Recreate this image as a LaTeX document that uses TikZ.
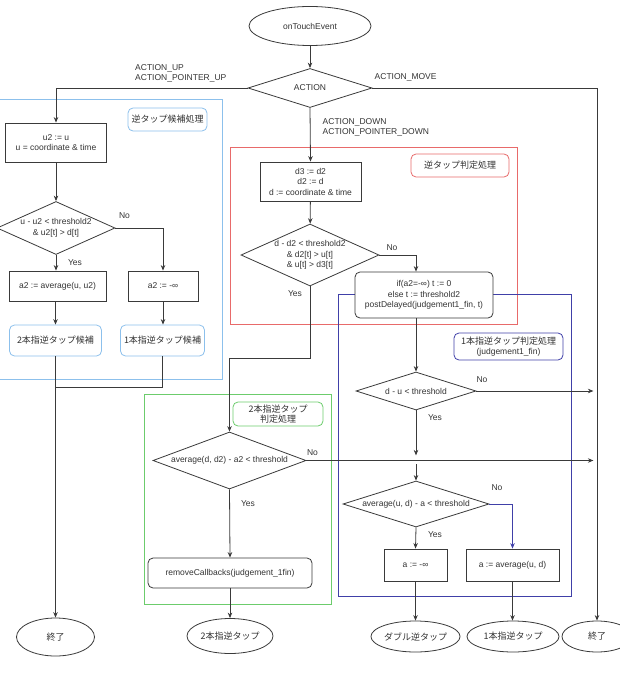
\documentclass[tikz,border=0pt]{standalone}
\usepackage{fontspec}
\setmainfont{Liberation Sans}
\newfontfamily\jp{Noto Sans CJK JP}
\usetikzlibrary{shapes.geometric,arrows.meta}
\definecolor{linec}{HTML}{3A3A3A}
\definecolor{txtc}{HTML}{333333}
\definecolor{bluec}{HTML}{8CC0EC}
\definecolor{redc}{HTML}{E86A6A}
\definecolor{greenc}{HTML}{6CCC6C}
\definecolor{navyc}{HTML}{4040A8}
\newcommand\dfont{\fontsize{8.5}{10.5}\selectfont}
\newcommand\jfont{\jp\fontsize{9}{11}\selectfont}
\begin{document}
\begin{tikzpicture}[x=1pt,y=-1pt,
  conn/.style={draw=linec, line width=0.8pt, -{Stealth[length=5.5pt,width=4.5pt]}},
  plainline/.style={draw=linec, line width=0.8pt},
  box/.style={rectangle, draw=linec, line width=0.8pt, fill=white, inner sep=0pt, text=txtc, font=\dfont, align=center},
  rbox/.style={box, rounded corners=5pt},
  term/.style={ellipse, draw=linec, line width=0.8pt, fill=white, inner sep=0pt, text=txtc, font=\dfont},
  dia/.style={diamond, draw=linec, line width=0.8pt, fill=white, inner sep=0pt},
  dtxt/.style={text=txtc, font=\dfont, align=center, inner sep=0pt},
  lbl/.style={text=txtc, font=\dfont, inner sep=0pt, align=left},
  frame/.style={line width=0.8pt},
  flabel/.style={rectangle, rounded corners=5pt, line width=0.8pt, fill=white, text=txtc, font=\jfont, align=center, inner sep=0pt}
]
\useasboundingbox (0,0) rectangle (619,674);

% containers
\draw[frame, draw=bluec] (-1,99) rectangle (222,379);
\draw[frame, draw=redc] (230,147) rectangle (517,324);
\draw[frame, draw=navyc] (338,294) rectangle (571,596);
\draw[frame, draw=greenc] (144,394) rectangle (331,604);

\node[flabel, draw=bluec, minimum width=79, minimum height=23] (lblue) at (167.5,119.5) {逆タップ候補処理};
\node[flabel, draw=redc, minimum width=98, minimum height=23] (lred) at (460,165.5) {逆タップ判定処理};
\node[flabel, draw=navyc, minimum width=109, minimum height=27] (lnavy) at (508.5,346.5) {1本指逆タップ判定処理\\[-1pt]{\rmfamily\dfont(judgement1\_fin)}};
\node[flabel, draw=greenc, minimum width=90, minimum height=24] (lgreen) at (278,414) {2本指逆タップ\\[-1pt]判定処理};

% nodes
\node[term, minimum width=122, minimum height=39] (start) at (310,26) {onTouchEvent};
\node[dia, minimum width=124, minimum height=39] (act) at (310,88) {};
\node[dtxt] at (act) {ACTION};

\node[box, minimum width=101, minimum height=39] (bu) at (56,142.5) {u2 := u\\u = coordinate \& time};
\node[dia, minimum width=118, minimum height=53] (du) at (56,228) {};
\node[dtxt] at (du) {u - u2 < threshold2\\\& u2[t] > d[t]};
\node[box, minimum width=97, minimum height=30] (ba2avg) at (57.5,286) {a2 := average(u, u2)};
\node[box, minimum width=70, minimum height=30] (ba2inf) at (163,286) {a2 := -∞};
\node[rbox, draw=bluec, font=\jfont, minimum width=92, minimum height=31] (r2cand) at (55.5,340.5) {2本指逆タップ候補};
\node[rbox, draw=bluec, font=\jfont, minimum width=84, minimum height=31] (r1cand) at (162.5,340.5) {1本指逆タップ候補};
\node[term, font=\jfont, minimum width=78, minimum height=38] (endL) at (55.5,637) {終了};

\node[box, minimum width=101, minimum height=39] (bd) at (310.5,181.5) {d3 := d2\\d2 := d\\d := coordinate \& time};
\node[dia, minimum width=138, minimum height=62] (dd) at (310,255) {};
\node[dtxt] at (dd) {d - d2 < threshold2\\\& d2[t] > u[t]\\\& u[t] > d3[t]};
\node[rbox, minimum width=138, minimum height=46] (post) at (424,295) {if(a2=-∞) t := 0\\else t := threshold2\\postDelayed(judgement1\_fin, t)};

\node[dia, minimum width=120, minimum height=38] (d1) at (416,391) {};
\node[dtxt] at (d1) {d - u < threshold};
\node[dia, minimum width=146, minimum height=46] (d2) at (416,504) {};
\node[dtxt] at (d2) {average(u, d) - a < threshold};
\node[box, minimum width=63, minimum height=32] (bainf) at (415.5,565) {a := -∞};
\node[box, minimum width=93, minimum height=32] (baavg) at (512.5,565) {a := average(u, d)};
\node[term, font=\jfont, minimum width=85, minimum height=31] (edouble) at (415.5,636.5) {ダブル逆タップ};
\node[term, font=\jfont, minimum width=92, minimum height=31] (e1) at (513,636.5) {1本指逆タップ};
\node[term, font=\jfont, minimum width=70, minimum height=31] (endR) at (597,636.5) {終了};

\node[dia, minimum width=153, minimum height=57] (gd) at (229.5,460.5) {};
\node[dtxt] at (gd) {average(d, d2) - a2 < threshold};
\node[rbox, minimum width=164, minimum height=30] (rc) at (230,573) {removeCallbacks(judgement\_1fin)};
\node[term, font=\jfont, minimum width=86, minimum height=35] (e2) at (230,636) {2本指逆タップ};

\coordinate (midgap) at (416,464);

% connectors
\draw[conn] (start) -- (act);
\draw[conn] (act.west) -| (bu.north);
\draw[conn] (act.east) -| (endR.north);
\draw[conn] (act.south) -- (bd.north);
\draw[conn] (bu) -- (du);
\draw[conn] (du.east) -| (ba2inf.north);
\draw[conn] (du.south) -- (du.south |- ba2avg.north);
\draw[conn] (ba2avg.south -| r2cand.north) -- (r2cand.north);
\draw[conn] (ba2inf.south) -- (ba2inf.south |- r1cand.north);
\draw[conn] (r2cand.south) -- (endL.north);
\draw[plainline] (r1cand.south) -- ++(0,31) -| (r2cand.south);

\draw[conn] (bd) -- (dd);
\draw[conn] (dd.east) -| (post.north -| d1.north);
\draw[conn] (dd.south) -- ++(0,72) -| (gd.north);
\draw[conn] (post.south -| d1.north) -- (d1.north);
\draw[conn] (d1.east) -- ++(117,0);
\draw[conn] (d1.south) -- ++(0,45);
\draw[conn] (gd.east) -- ++(287,0);
\draw[conn] (midgap) -- (d2.north);
\draw[conn] (d2.south) -- (bainf.north);
\draw[conn, draw=navyc] (d2.east) -| (baavg.north);
\draw[conn] (bainf) -- (edouble);
\draw[conn] (baavg.south) -- (baavg.south |- e1.north);
\draw[conn] (gd.south) -- (rc.north);
\draw[conn] (rc.south) -- (e2.north);

% connector labels
\node[lbl, anchor=west] at (135,73.5) {ACTION\_UP\\ACTION\_POINTER\_UP};
\node[lbl, anchor=west] at (374.5,77) {ACTION\_MOVE};
\node[lbl, anchor=west] at (322.5,127.5) {ACTION\_DOWN\\ACTION\_POINTER\_DOWN};
\node[lbl] at (124.5,216) {No};
\node[lbl] at (75,263) {Yes};
\node[lbl] at (392,248) {No};
\node[lbl] at (295,294) {Yes};
\node[lbl] at (482,380) {No};
\node[lbl] at (435,418) {Yes};
\node[lbl] at (312.5,453) {No};
\node[lbl] at (248,504) {Yes};
\node[lbl] at (497,488) {No};
\node[lbl] at (435,535) {Yes};
\end{tikzpicture}
\end{document}
